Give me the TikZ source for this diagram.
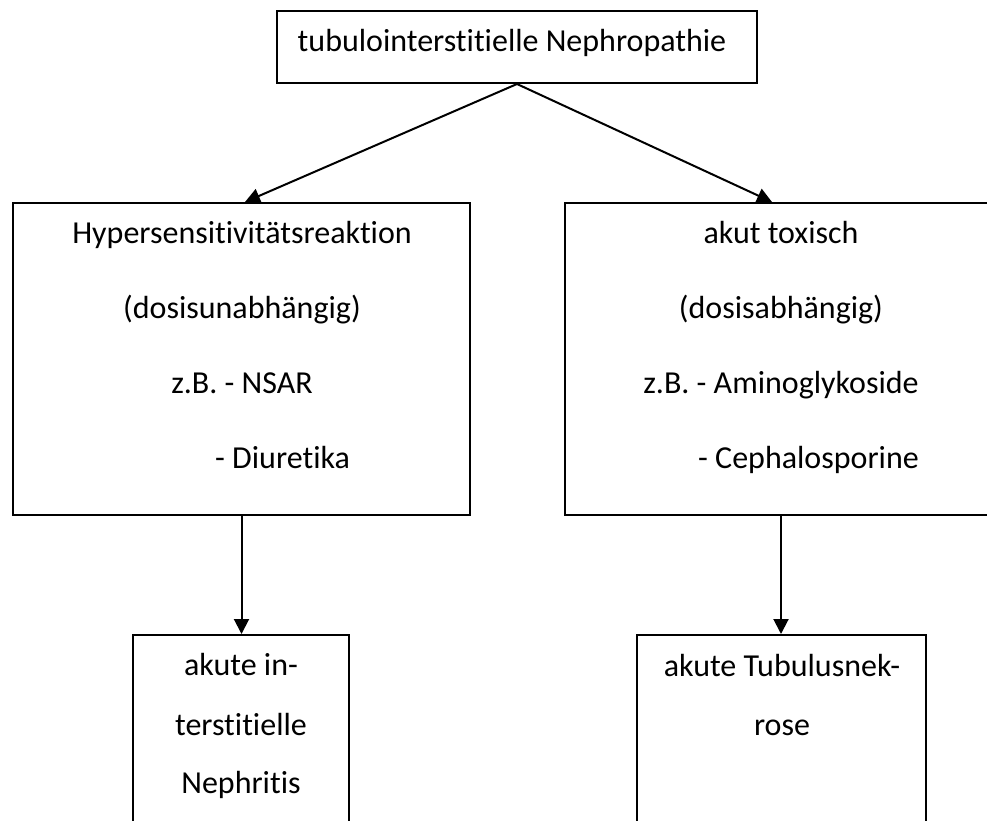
\documentclass[tikz,border=0pt]{standalone}
\usepackage{fontspec}
\setmainfont{Carlito}[Ligatures=NoCommon]
\usetikzlibrary{arrows.meta}
\begin{document}
\begin{tikzpicture}[x=1pt,y=-1pt,
  box/.style={draw=black, line width=2pt, rectangle, inner sep=0pt},
  txt/.style={inner sep=0pt, font=\fontsize{32}{38}\selectfont},
  conn/.style={draw=black, line width=2pt, -{Triangle[length=15pt,width=15pt]}}]
\useasboundingbox (0,0) rectangle (987,821);
% boxes
\node[box, minimum width=480pt, minimum height=72pt] (top) at (517,47) {};
\node[box, minimum width=457pt, minimum height=312pt] (lm) at (241.5,359) {};
\node[box, minimum width=432pt, minimum height=312pt] (rm) at (781,359) {};
\node[box, minimum width=216pt, minimum height=225pt] (lb) at (241,747.5) {};
\node[box, minimum width=289pt, minimum height=225pt] (rb) at (781.5,747.5) {};
% texts
\node[txt, anchor=base] (t0) at (512,52) {tubulointerstitielle Nephropathie};
\node[txt, anchor=base] (l1) at (242,243) {Hypersensitivitätsreaktion};
\node[txt, anchor=base] (l2) at (242,318) {(dosisunabhängig)};
\node[txt, anchor=base] (l3) at (242,393) {z.B. - NSAR};
\node[txt, anchor=base west] (l4) at (215,468) {- Diuretika};
\node[txt, anchor=base] (r1) at (781,243) {akut toxisch};
\node[txt, anchor=base] (r2) at (781,318) {(dosisabhängig)};
\node[txt, anchor=base] (r3) at (781,393) {z.B. - Aminoglykoside};
\node[txt, anchor=base west] (r4) at (698,468) {- Cephalosporine};
\node[txt, anchor=base] (b1) at (241,675) {akute in-};
\node[txt, anchor=base] (b2) at (241,735) {terstitielle};
\node[txt, anchor=base] (b3) at (241,793) {Nephritis};
\node[txt, anchor=base] (c1) at (782,676) {akute Tubulusnek-};
\node[txt, anchor=base] (c2) at (782,735) {rose};
% connectors
\draw[conn] (top.south) -- ([xshift=3.5pt]lm.north);
\draw[conn] (top.south) -- ([xshift=-9pt]rm.north);
\draw[conn] (lm.south) -- (lm.south |- lb.north);
\draw[conn] (rm.south) -- (rm.south |- rb.north);
\end{tikzpicture}
\end{document}
